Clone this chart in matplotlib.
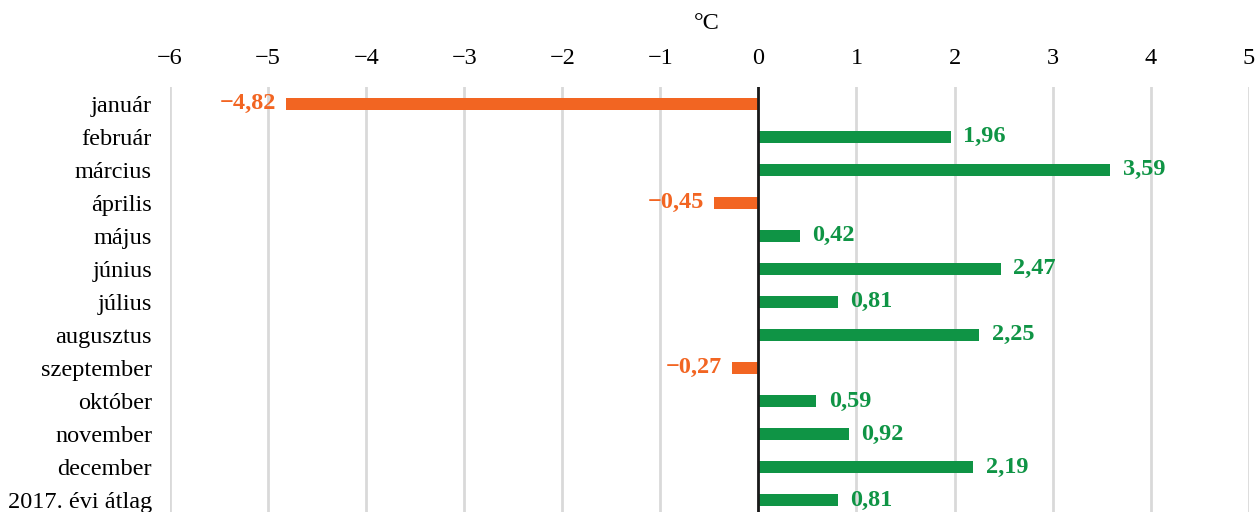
import matplotlib.pyplot as plt
import matplotlib

matplotlib.rcParams['font.family'] = ['Liberation Serif', 'DejaVu Serif']

honapok = ["január", "február", "március", "április", "május", "június", "július",
           "augusztus", "szeptember", "október", "november", "december", "2017. évi átlag"]
ertekek = [-4.82, 1.96, 3.59, -0.45, 0.42, 2.47, 0.81, 2.25, -0.27, 0.59, 0.92, 2.19, 0.81]
ticks = list(range(-6, 6))

narancs = "#F26522"
zold = "#0F9445"

fig = plt.figure(figsize=(12.55, 5.12), dpi=100)
ax = fig.add_axes([0.1355, 0.0, 0.8595, 0.83])

pos = list(range(len(honapok)))
szinek = [narancs if v < 0 else zold for v in ertekek]
ax.barh(pos, ertekek, height=0.36, color=szinek, zorder=3)

for p, v, c in zip(pos, ertekek, szinek):
    szoveg = ("%.2f" % v).replace(".", ",").replace("-", "\u2212")
    if v < 0:
        ax.annotate(szoveg, (v, p), xytext=(-7, 0), textcoords="offset points",
                    ha="right", va="center", color=c, fontsize=17.5, fontweight="bold")
    else:
        ax.annotate(szoveg, (v, p), xytext=(9, 0), textcoords="offset points",
                    ha="left", va="center", color=c, fontsize=17.5, fontweight="bold")

ax.set_xlim(-6, 5)
ax.set_ylim(12.36, -0.5)
ax.set_xticks(ticks)
ax.set_xticklabels([str(t).replace("-", "\u2212") for t in ticks])
ax.set_yticks(pos)
ax.set_yticklabels(honapok)
ax.xaxis.tick_top()
ax.tick_params(axis="both", length=0, labelsize=17.5, colors="#000000")
ax.tick_params(axis="x", pad=13)
ax.tick_params(axis="y", pad=13)
for s in ax.spines.values():
    s.set_visible(False)
ax.grid(axis="x", color="#d9d9d9", linewidth=2, zorder=0)
ax.axvline(0, color="#1a1a1a", linewidth=2, zorder=4)

fig.text(0.563, 0.955, "°C", ha="center", va="center", fontsize=17.5)

fig.savefig("out.png", dpi=100)
